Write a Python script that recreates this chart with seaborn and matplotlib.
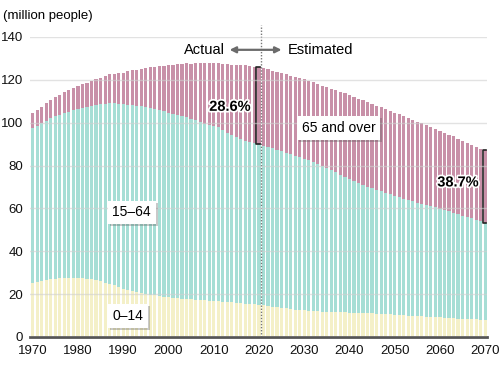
import numpy as np
import pandas as pd
import seaborn as sns
import matplotlib.pyplot as plt
import matplotlib.patheffects as pe

# population of Japan by age group, million people (1970-2020 actual, after that estimated)
years = list(range(1970, 2071))

age_0_14 = [
    25.2, 25.6, 26.1, 26.6, 27.0, 27.2, 27.4, 27.5, 27.6, 27.6,
    27.5, 27.4, 27.2, 26.9, 26.5, 26.0, 25.4, 24.8, 24.1, 23.2,
    22.5, 21.9, 21.4, 20.8, 20.4, 20.0, 19.7, 19.4, 19.1, 18.7,
    18.5, 18.3, 18.1, 17.9, 17.7, 17.6, 17.4, 17.3, 17.2, 17.0,
    16.8, 16.7, 16.5, 16.4, 16.2, 15.9, 15.8, 15.6, 15.4, 15.2,
    15.0, 14.8, 14.5, 14.2, 13.9, 13.6, 13.3, 13.0, 12.8, 12.6,
    12.4, 12.2, 12.1, 11.9, 11.8, 11.7, 11.6, 11.6, 11.5, 11.5,
    11.4, 11.3, 11.3, 11.2, 11.1, 11.0, 10.9, 10.8, 10.7, 10.5,
    10.4, 10.3, 10.1, 10.0, 9.9, 9.7, 9.6, 9.5, 9.4, 9.3,
    9.1, 9.0, 8.9, 8.8, 8.6, 8.5, 8.4, 8.3, 8.2, 8.1,
    8.0,
]
age_15_64 = [
    72.1, 72.9, 73.6, 74.4, 75.1, 75.8, 76.4, 77.0, 77.6, 78.2,
    78.8, 79.5, 80.2, 80.9, 81.7, 82.5, 83.4, 84.2, 84.9, 85.5,
    86.0, 86.4, 86.8, 87.0, 87.2, 87.2, 87.2, 87.0, 86.9, 86.6,
    86.2, 85.9, 85.6, 85.4, 85.1, 84.1, 83.7, 83.0, 82.3, 81.9,
    81.7, 81.3, 80.2, 79.0, 77.9, 77.3, 76.6, 76.0, 75.5, 75.1,
    75.1, 74.5, 74.2, 73.9, 73.5, 73.1, 72.7, 72.3, 71.8, 71.3,
    70.8, 70.2, 69.5, 68.8, 68.0, 67.2, 66.2, 65.2, 64.1, 63.1,
    62.1, 61.3, 60.5, 59.7, 59.0, 58.3, 57.7, 57.1, 56.5, 56.0,
    55.4, 54.9, 54.4, 53.9, 53.4, 52.9, 52.5, 52.1, 51.6, 51.2,
    50.8, 50.3, 49.7, 49.2, 48.6, 48.1, 47.5, 47.0, 46.4, 45.9,
    45.4,
]
age_65_over = [
    7.3, 7.5, 7.8, 8.1, 8.5, 8.9, 9.2, 9.6, 9.9, 10.3,
    10.6, 11.0, 11.3, 11.7, 12.1, 12.5, 13.0, 13.5, 13.9, 14.3,
    14.9, 15.6, 16.2, 16.9, 17.6, 18.3, 19.0, 19.8, 20.5, 21.2,
    22.0, 22.9, 23.6, 24.3, 24.9, 25.7, 26.6, 27.5, 28.2, 29.0,
    29.5, 29.8, 30.8, 31.9, 33.0, 33.9, 34.6, 35.2, 35.6, 35.9,
    36.0, 36.2, 36.2, 36.2, 36.3, 36.5, 36.6, 36.7, 36.8, 36.9,
    37.0, 37.1, 37.2, 37.3, 37.5, 37.7, 38.0, 38.4, 38.8, 39.1,
    39.3, 39.4, 39.4, 39.5, 39.5, 39.5, 39.4, 39.3, 39.1, 39.0,
    38.9, 38.7, 38.5, 38.3, 38.1, 37.9, 37.6, 37.3, 37.0, 36.7,
    36.4, 36.1, 35.8, 35.6, 35.3, 35.0, 34.7, 34.5, 34.2, 33.9,
    33.7,
]

x_ticks = [1970, 1980, 1990, 2000, 2010, 2020, 2030, 2040, 2050, 2060, 2070]
y_ticks = [0, 20, 40, 60, 80, 100, 120, 140]

df = pd.DataFrame({'year': years, 'young': age_0_14, 'working': age_15_64, 'old': age_65_over})
df['working_top'] = df['young'] + df['working']
df['total'] = df['working_top'] + df['old']

plt.rcParams['font.family'] = ['Liberation Sans', 'DejaVu Sans']

fig = plt.figure(figsize=(5, 3.81), dpi=100)
ax = fig.add_axes([0.06, 0.1155, 0.914, 0.7875])

# stacked bars drawn as overlapping cumulative totals
sns.barplot(data=df, x='year', y='total', native_scale=True, width=0.7,
            color='#c890a8', saturation=1, ax=ax)
sns.barplot(data=df, x='year', y='working_top', native_scale=True, width=0.7,
            color='#a6ded5', saturation=1, ax=ax)
sns.barplot(data=df, x='year', y='young', native_scale=True, width=0.7,
            color='#f4f0c8', saturation=1, ax=ax)

ax.set_xlim(1969.4, 2070.4)
ax.set_ylim(0, 140)
ax.set_xticks(x_ticks)
ax.set_yticks(y_ticks)
ax.tick_params(length=0, labelsize=9.5, colors='#111111')
ax.tick_params(axis='y', pad=5)
ax.tick_params(axis='x', pad=6)
ax.set_xlabel('')
ax.set_ylabel('')
for s in ['top', 'right', 'left']:
    ax.spines[s].set_visible(False)
ax.spines['bottom'].set_color('#555555')
ax.spines['bottom'].set_linewidth(2)
ax.grid(axis='y', color='#d0d0d0', lw=1, alpha=0.6)
ax.set_axisbelow(False)

# actual / estimated divider
ax.plot([2020.45, 2020.45], [0, 145.5], ls=(0, (1, 1.2)), color='#777777', lw=1, clip_on=False)
ax.text(2012.5, 134, 'Actual', ha='right', va='center', fontsize=10.5)
ax.annotate('', xy=(2012.9, 134), xytext=(2025.6, 134),
            arrowprops=dict(arrowstyle='<|-|>', color='#6b6b6b', lw=1.6, mutation_scale=9))
ax.text(2026.3, 134, 'Estimated', ha='left', va='center', fontsize=10.5)

# age group labels
for label, xp, yp in [('15–64', 1991.9, 58.1), ('0–14', 1991.0, 9.8), ('65 and over', 2037.6, 97.4)]:
    t = ax.text(xp, yp, label, ha='center', va='center', fontsize=10,
                bbox=dict(boxstyle='square,pad=0.35', fc='white', ec='none'))
    t.get_bbox_patch().set_path_effects([pe.withSimplePatchShadow(offset=(1.5, -1.5), alpha=0.3),
                                         pe.Normal()])

# share of 65 and over
share = [('28.6%', 2020, 2013.6, 107.4), ('38.7%', 2070, 2064.0, 72.1)]
for label, yr, xp, yp in share:
    row = df[df['year'] == yr].iloc[0]
    bx = yr - 0.55
    ax.plot([bx + 0.7, bx, bx, bx + 0.7], [row['total'], row['total'], row['working_top'], row['working_top']],
            color='#222222', lw=1.2, clip_on=False)
    ax.text(xp, yp, label, ha='center', va='center', fontsize=10.5, fontweight='bold',
            path_effects=[pe.withStroke(linewidth=2.5, foreground='white')])

fig.text(0.006, 1 - 16 / 381, '(million people)', ha='left', va='center', fontsize=9.5)

plt.savefig('out.png', dpi=100)
